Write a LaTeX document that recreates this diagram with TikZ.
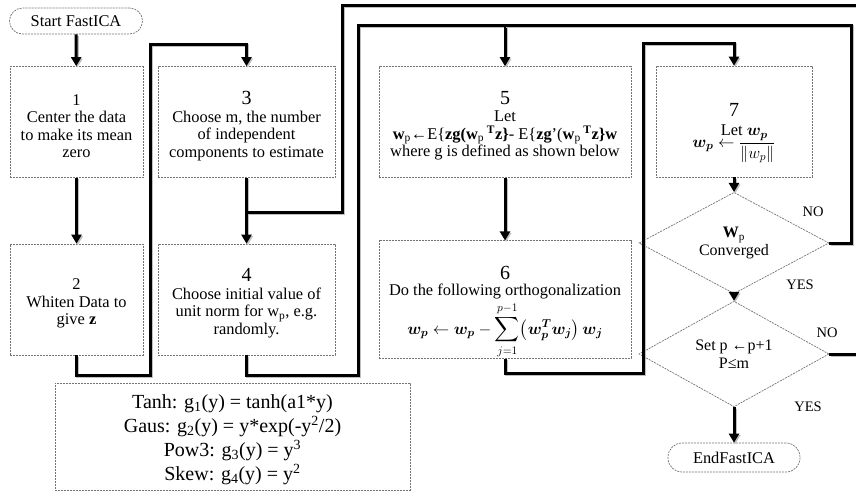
\RequirePackage{fix-cm}
\documentclass[tikz,border=0pt]{standalone}
\usepackage{fontspec}
\setmainfont{Liberation Serif}
\usepackage{amsmath,bm}
\usetikzlibrary{arrows.meta,shapes.geometric}
\tikzset{
  flowbox/.style={draw=black!55, dash pattern=on 2pt off 1pt, line width=0.7pt, inner sep=0pt,
    align=center, font=\fontsize{16.4}{17.5}\selectfont},
  term/.style={flowbox, rounded corners=13pt},
  decision/.style={draw=black!55, dash pattern=on 2pt off 1pt, line width=0.7pt, shape=diamond,
    inner sep=0pt, minimum width=190pt, minimum height=87pt, align=center,
    font=\fontsize{16}{17.5}\selectfont},
  conn/.style={line width=3pt, black,
    preaction={draw=black!25, line width=3pt, transform canvas={shift={(1.2pt,-1.5pt)}}}},
  arr/.style={conn, -{Triangle[width=10pt,length=9pt]}},
  lbl/.style={font=\fontsize{14.5}{16}\selectfont, inner sep=0pt},
}
\newcommand{\bignum}[1]{{\rule{0pt}{21pt}\fontsize{20}{20}\selectfont #1}}
\newcommand{\smallnum}[1]{{\rule{0pt}{19pt}#1}}
\begin{document}
\begin{tikzpicture}[x=1pt,y=-1pt]
\path[use as bounding box, clip] (0,0) rectangle (856,493);

% nodes
\node[term, minimum width=133pt, minimum height=26pt] (start) at (76,21) {Start FastICA};
\node[flowbox, minimum width=133pt, minimum height=111pt] (b1) at (76.5,122)
  {\smallnum{1}\\Center the data\\to make its mean\\zero};
\node[flowbox, minimum width=133pt, minimum height=111pt] (b2) at (76.5,299.5)
  {\smallnum{2}\\Whiten Data to\\give \textbf{z}};
\node[flowbox, minimum width=177pt, minimum height=111pt] (b3) at (246.5,122)
  {\bignum{3}\\Choose m, the number\\of independent\\components to estimate};
\node[flowbox, minimum width=177pt, minimum height=111pt] (b4) at (246.5,299.5)
  {\bignum{4}\\Choose initial value of\\unit norm for w\textsubscript{p}, e.g.\\randomly.};
\node[flowbox, minimum width=252pt, minimum height=111pt] (b5) at (505,122)
  {\bignum{5}\\Let\\\textbf{w}\textsubscript{p}←E\{\textbf{zg(w}\textsubscript{p}\,\textbf{\textsuperscript{T}z\}}- E\{\textbf{zg}'(\textbf{w}\textsubscript{p}\,\textbf{\textsuperscript{T}z\}w}\\where g is defined as shown below};
\node[flowbox, minimum width=252pt, minimum height=111pt] (b6) at (505,299.5)
  {\rule{0pt}{39pt}\fontsize{20}{20}\selectfont 6\\[-2pt]Do the following orthogonalization\\[3pt]
   $\displaystyle \bm{w_p} \leftarrow \bm{w_p} - \sum_{j=1}^{p-1}\bigl(\bm{w}_{\bm{p}}^{\bm{T}}\bm{w_j}\bigr)\,\bm{w_j}$};
\node[flowbox, minimum width=156pt, minimum height=111pt] (b7) at (734,121.5)
  {\rule{0pt}{36pt}\fontsize{20}{20}\selectfont 7\\[8pt]$\bm{w_p} \leftarrow \dfrac{\makebox[0pt][r]{Let\ }\bm{w_p}}{\|w_p\|}$};
\node[decision] (d1) at (734,243) {\textbf{W}\textsubscript{p}\\Converged};
\node[decision] (d2) at (734,354) {Set p ←p+1\\P≤m};
\node[term, minimum width=132pt, minimum height=29pt, rounded corners=14pt] (end) at (734,457.5) {EndFastICA};
\node[flowbox, minimum width=355pt, minimum height=107pt, font=\fontsize{20}{24}\selectfont] (gbox) at (232.5,436.5)
  {\rule{0pt}{21pt}Tanh: g\textsubscript{1}(y) = tanh(a1*y)\\
   Gaus: g\textsubscript{2}(y) = y*exp(-y\textsuperscript{2}/2)\\
   Pow3: g\textsubscript{3}(y) = y\textsuperscript{3}\\
   Skew: g\textsubscript{4}(y) = y\textsuperscript{2}};

\node[lbl] (no1) at (813,212) {NO};
\node[lbl] (yes1) at (800,285) {YES};
\node[lbl] (no2) at (827,333) {NO};
\node[lbl] (yes2) at (808,407) {YES};

% coordinates for routing
\coordinate (k1) at (150,375);
\coordinate (k2) at (150,44);
\coordinate (j34) at (246.5,212);
\coordinate (o1) at (866,354);
\coordinate (o2) at (342,5);
\coordinate (i1) at (358,375);
\coordinate (i2) at (358,25);
\coordinate (r1) at (851,25);
\coordinate (m1) at (643,373);
\coordinate (m2) at (643,43);

% connectors
\draw[arr] (start) -- (b1);
\draw[arr] (b1) -- (b2);
\draw[arr] (b2.south) |- (k1) -- (k2) -| (b3.north);
\draw[arr] (b3) -- (b4);
\draw[conn] (d2.east) -- (o1) |- (o2) |- (j34);
\draw[arr] (b4.south) |- (i1) -- (i2) -| (b5.north);
\draw[conn] (d1.east) -| (r1) -- (b5.north |- r1);
\draw[arr] (b5) -- (b6);
\draw[arr] (b6.south) |- (m1) -- (m2) -| (b7.north);
\draw[arr] (b7) -- (d1);
\draw[arr] (d1) -- (d2);
\draw[arr] (d2) -- (end);
\end{tikzpicture}
\end{document}
